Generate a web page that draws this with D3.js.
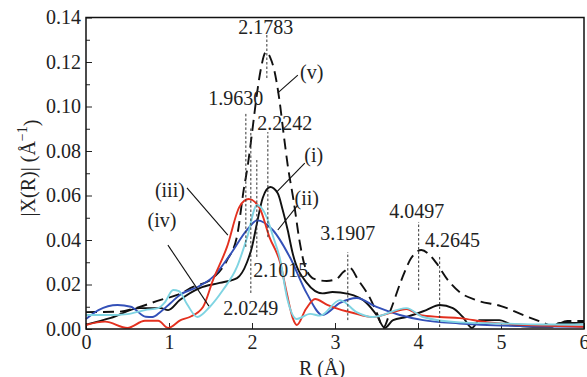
<!DOCTYPE html>
<html>
<head>
<meta charset="utf-8">
<script src="https://cdn.jsdelivr.net/npm/d3@7/dist/d3.min.js"></script>
<style>
  body { margin: 0; background: #fff; }
  text { font-family: "Liberation Serif", "DejaVu Serif", serif; fill: #222; }
</style>
</head>
<body>
<div id="chart"></div>
<script>
// --- data ---
const rV = [0, 0.4, 0.6, 0.89, 1.1, 1.29, 1.53, 1.7, 1.82, 1.9, 1.95, 2.0, 2.05, 2.1, 2.17, 2.22, 2.27, 2.33, 2.38, 2.43, 2.5, 2.58, 2.64, 2.75, 2.9, 3.02, 3.1, 3.18, 3.28, 3.42, 3.52, 3.58, 3.67, 3.8, 3.92, 4.04, 4.14, 4.22, 4.36, 4.5, 4.7, 5.0, 5.3, 5.52, 5.62, 5.8, 6.0];
const yV = [0.0076, 0.0078, 0.0094, 0.013, 0.0153, 0.0189, 0.0229, 0.031, 0.0418, 0.0625, 0.0737, 0.088, 0.103, 0.1155, 0.1245, 0.122, 0.116, 0.103, 0.088, 0.0737, 0.058, 0.038, 0.028, 0.0225, 0.0216, 0.0225, 0.0256, 0.0274, 0.022, 0.014, 0.0058, 0.0005, 0.0085, 0.022, 0.032, 0.0355, 0.0333, 0.0297, 0.022, 0.0166, 0.013, 0.0103, 0.0058, 0.0027, 0.0013, 0.0036, 0.0036];

const rI = [0, 0.3, 0.65, 0.9, 0.99, 1.13, 1.37, 1.61, 1.82, 1.94, 2.0, 2.06, 2.13, 2.22, 2.31, 2.37, 2.43, 2.49, 2.66, 2.85, 2.97, 3.16, 3.38, 3.5, 3.6, 3.7, 3.86, 4.1, 4.26, 4.42, 4.54, 4.65, 4.74, 4.98, 5.14, 5.38, 5.62, 5.7, 5.86, 6.0];
const yI = [0.002, 0.005, 0.0094, 0.0094, 0.0085, 0.013, 0.0184, 0.0207, 0.0229, 0.03, 0.0369, 0.0476, 0.059, 0.0638, 0.061, 0.0535, 0.0445, 0.034, 0.0207, 0.016, 0.0166, 0.0158, 0.0117, 0.0063, 0.0005, 0.004, 0.0054, 0.0085, 0.0108, 0.0094, 0.0054, 0.0005, 0.004, 0.004, 0.0018, 0.001, 0.001, 0.0027, 0.0027, 0.003];

const rII = [0, 0.15, 0.38, 0.54, 0.72, 0.8, 0.9, 1.02, 1.13, 1.35, 1.53, 1.73, 1.94, 2.06, 2.25, 2.46, 2.66, 2.85, 3.06, 3.26, 3.5, 3.78, 4.06, 4.5, 5.0, 5.5, 6.0];
const yII = [0.0045, 0.0085, 0.0108, 0.0100, 0.0055, 0.0054, 0.0078, 0.0117, 0.0153, 0.019, 0.0234, 0.033, 0.0445, 0.0488, 0.0445, 0.0320, 0.016, 0.0063, 0.0117, 0.0139, 0.0099, 0.0063, 0.004, 0.0025, 0.0015, 0.0012, 0.001];

const rIII = [0, 0.23, 0.5, 0.71, 0.87, 0.99, 1.14, 1.25, 1.41, 1.53, 1.7, 1.85, 1.96, 2.09, 2.21, 2.34, 2.42, 2.49, 2.54, 2.65, 2.76, 2.9, 3.0, 3.22, 3.45, 3.7, 3.86, 4.02, 4.26, 4.5, 4.83, 5.2, 5.5, 6.0];
const yIII = [0.0018, 0.0033, 0.0005, 0.0037, 0.0037, 0.0005, 0.004, 0.0054, 0.0099, 0.022, 0.037, 0.055, 0.0584, 0.0545, 0.0413, 0.0297, 0.016, 0.005, 0.0018, 0.009, 0.0135, 0.011, 0.0095, 0.0072, 0.0054, 0.0076, 0.009, 0.0063, 0.0054, 0.0049, 0.0031, 0.002, 0.0015, 0.001];

const rIV = [0, 0.3, 0.5, 0.71, 0.87, 0.95, 1.05, 1.12, 1.22, 1.34, 1.49, 1.65, 1.82, 1.94, 2.06, 2.18, 2.25, 2.34, 2.42, 2.54, 2.7, 2.82, 3.06, 3.26, 3.45, 3.86, 4.06, 4.5, 5.0, 5.5, 6.0];
const yIV = [0.0063, 0.0063, 0.0067, 0.0085, 0.0094, 0.012, 0.0175, 0.017, 0.011, 0.0054, 0.0099, 0.0175, 0.028, 0.041, 0.0557, 0.050, 0.042, 0.031, 0.0144, 0.0045, 0.0068, 0.006, 0.013, 0.0076, 0.0054, 0.0094, 0.0054, 0.003, 0.0025, 0.002, 0.002];

const seriesNames = ["(i)", "(ii)", "(iii)", "(iv)", "(v)"];

// peak markers: label, marker R, dotted line from y0 to y1, label anchor
const peakLabels = ["1.9630", "2.0249", "2.1015", "2.1783", "2.2242", "3.1907", "4.0497", "4.2645"];
const peakR = [1.926, 1.986, 2.058, 2.179, 2.191, 3.154, 4.008, 4.261];
const peakY0 = [0.0369, 0.0162, 0.0324, 0.1128, 0.0413, 0.004, 0.0175, 0.0009];
const peakY1 = [0.0975, 0.0908, 0.0759, 0.133, 0.0885, 0.0346, 0.0481, 0.0333];
const peakTextR = [1.805, 1.986, 2.347, 2.167, 2.395, 3.154, 3.984, 4.417];
const peakTextY = [0.1038, 0.0094, 0.0265, 0.1357, 0.0926, 0.0431, 0.053, 0.040];

// series labels and leader lines
const nameTextR = [2.744, 2.66, 1.011, 0.915, 2.72];
const nameTextY = [0.0782, 0.0589, 0.0625, 0.049, 0.1155];
const leadR0 = [2.636, 2.552, 1.216, 0.987, 2.552];
const leadY0 = [0.0746, 0.0557, 0.0634, 0.0377, 0.1141];
const leadR1 = [2.299, 2.311, 1.709, 1.481, 2.311];
const leadY1 = [0.0616, 0.0445, 0.0422, 0.0103, 0.1061];

const xTicks = [0, 1, 2, 3, 4, 5, 6];
const yTicks = [0, 0.02, 0.04, 0.06, 0.08, 0.10, 0.12, 0.14];
const yMinor = [0.01, 0.03, 0.05, 0.07, 0.09, 0.11, 0.13];

// --- layout ---
const W = 587, H = 377;
const margin = { top: 17.5, right: 3, bottom: 48, left: 86 };
const width = W - margin.left - margin.right;
const height = H - margin.top - margin.bottom;

const svg = d3.select("#chart").append("svg")
  .attr("width", W).attr("height", H);

const plot = svg.append("g")
  .attr("transform", `translate(${margin.left},${margin.top})`);

const x = d3.scaleLinear().domain([0, 6]).range([0, width]);
const y = d3.scaleLinear().domain([0, 0.14]).range([height, 0]);

// axes (ticks point inward)
const xAxis = d3.axisBottom(x).tickValues(xTicks).tickSize(-6).tickPadding(6)
  .tickFormat(d3.format("d"));
const yAxis = d3.axisLeft(y).tickValues(yTicks).tickSize(-6).tickPadding(5)
  .tickFormat(d3.format(".2f"));
const yAxisMinor = d3.axisLeft(y).tickValues(yMinor).tickSize(-4).tickFormat("");

plot.append("g").attr("transform", `translate(0,${height})`).call(xAxis);
plot.append("g").call(yAxis);
plot.append("g").call(yAxisMinor);
plot.selectAll(".domain").remove();
plot.selectAll(".tick line").attr("stroke", "#222").attr("stroke-width", 1);
plot.selectAll(".tick text").style("font-size", "20px")
  .style("font-family", "'Liberation Serif', serif").attr("fill", "#222");

// lines
const line = d3.line().x(d => x(d[0])).y(d => y(d[1])).curve(d3.curveMonotoneX);
const zip = (a, b) => a.map((v, i) => [v, b[i]]);

const curves = [
  { pts: zip(rV, yV), color: "#111", dash: "11,6", w: 1.9 },
  { pts: zip(rI, yI), color: "#111", dash: null, w: 1.9 },
  { pts: zip(rII, yII), color: "#3350b8", dash: null, w: 1.9 },
  { pts: zip(rIII, yIII), color: "#e3301f", dash: null, w: 1.9 },
  { pts: zip(rIV, yIV), color: "#7fd4e2", dash: null, w: 1.9 }
];

plot.selectAll(".curve").data(curves).enter().append("path")
  .attr("class", "curve")
  .attr("d", d => line(d.pts))
  .attr("fill", "none")
  .attr("stroke", d => d.color)
  .attr("stroke-width", d => d.w)
  .attr("stroke-dasharray", d => d.dash);

// peak markers
peakR.forEach((r, i) => {
  plot.append("line")
    .attr("x1", x(r)).attr("x2", x(r))
    .attr("y1", y(peakY0[i])).attr("y2", y(peakY1[i]))
    .attr("stroke", "#333").attr("stroke-width", 1)
    .attr("stroke-dasharray", "2.5,2");
  plot.append("text")
    .attr("x", x(peakTextR[i])).attr("y", y(peakTextY[i]))
    .attr("text-anchor", "middle").attr("dominant-baseline", "central")
    .style("font-size", "20px")
    .text(peakLabels[i]);
});

// series labels with leader lines
seriesNames.forEach((name, i) => {
  plot.append("line")
    .attr("x1", x(leadR0[i])).attr("y1", y(leadY0[i]))
    .attr("x2", x(leadR1[i])).attr("y2", y(leadY1[i]))
    .attr("stroke", "#111").attr("stroke-width", 1.1);
  plot.append("text")
    .attr("x", x(nameTextR[i])).attr("y", y(nameTextY[i]))
    .attr("text-anchor", "middle").attr("dominant-baseline", "central")
    .style("font-size", "20px")
    .text(name);
});

// frame
plot.append("rect")
  .attr("width", width).attr("height", height)
  .attr("fill", "none").attr("stroke", "#111").attr("stroke-width", 1.5);

// axis titles
svg.append("text")
  .attr("x", margin.left + width / 2 - 13).attr("y", H - 9)
  .attr("text-anchor", "middle").attr("dominant-baseline", "central")
  .style("font-size", "20px")
  .text("R (Å)");

const yt = svg.append("text")
  .attr("transform", `translate(28,168) rotate(-90)`)
  .attr("text-anchor", "middle").attr("dominant-baseline", "central")
  .style("font-size", "20px");
yt.append("tspan").text("|X(R)| (Å");
yt.append("tspan").attr("dy", "-0.45em").style("font-size", "14px").text("−1");
yt.append("tspan").attr("dy", "0.45em").text(")");
</script>
</body>
</html>
